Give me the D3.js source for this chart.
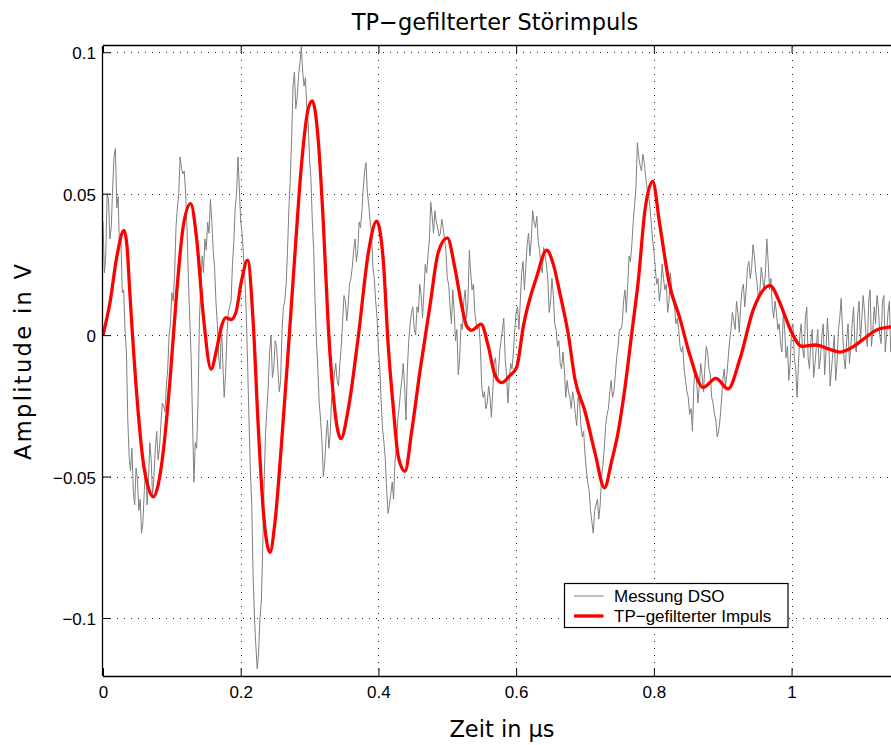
<!DOCTYPE html>
<html>
<head>
<meta charset="utf-8">
<script src="https://cdn.jsdelivr.net/npm/d3@7"></script>
<style>
  html, body { margin: 0; padding: 0; background: #fff; }
  svg { display: block; }
</style>
</head>
<body>
<div id="chart"></div>
<script>
// ---------- data ----------
const chartTitle = "TP\u2212gefilterter Störimpuls";
const xLabel = "Zeit in µs";
const yLabel = "Amplitude in V";
const legendLabels = ["Messung DSO", "TP\u2212gefilterter Impuls"];

const xTicks = [0, 0.2, 0.4, 0.6, 0.8, 1];
const xTickLabels = ["0", "0.2", "0.4", "0.6", "0.8", "1"];
const yTicks = [0.1, 0.05, 0, -0.05, -0.1];
const yTickLabels = ["0.1", "0.05", "0", "\u22120.05", "\u22120.1"];

const xDomain = [0, 1.148];
const yDomain = [-0.1205, 0.1022];

// DSO measurement: sampled every 0.002 µs starting at 0
const grayStart = 0;
const grayStep = 0.002;
const grayValues = [
0.040,0.022,0.028,0.050,0.048,0.034,0.038,0.052,0.063,0.066,0.045,0.049,0.030,0.034,0.015,0.016,0.002,-0.006,-0.030,-0.043,
-0.048,-0.040,-0.055,-0.060,-0.047,-0.051,-0.062,-0.058,-0.070,-0.066,-0.055,-0.047,-0.060,-0.052,-0.038,-0.044,-0.057,-0.050,-0.040,-0.034,
-0.044,-0.040,-0.032,-0.024,-0.025,-0.027,-0.018,-0.012,0.000,0.004,0.015,0.012,0.022,0.038,0.045,0.050,0.063,0.059,0.057,0.058,
0.050,0.038,0.020,0.006,-0.008,-0.030,-0.052,-0.038,-0.040,-0.024,0.005,0.018,0.028,0.022,0.034,0.030,0.040,0.036,0.048,0.040,
0.030,0.024,0.012,0.004,-0.008,-0.012,0.004,-0.010,-0.022,-0.014,0.000,0.008,0.010,0.012,0.025,0.033,0.045,0.050,0.063,0.052,
0.040,0.036,0.028,0.020,0.008,-0.010,-0.030,-0.048,-0.060,-0.085,-0.100,-0.110,-0.118,-0.112,-0.100,-0.094,-0.075,-0.052,-0.035,-0.026,
-0.018,-0.006,0.000,-0.015,-0.012,-0.002,-0.004,-0.012,-0.020,-0.016,0.002,0.010,0.012,0.018,0.030,0.045,0.055,0.070,0.088,0.093,
0.080,0.084,0.092,0.096,0.102,0.093,0.088,0.091,0.080,0.075,0.062,0.055,0.040,0.030,0.012,-0.002,-0.012,-0.024,-0.030,-0.038,
-0.050,-0.045,-0.036,-0.030,-0.040,-0.035,-0.022,-0.020,-0.014,-0.010,-0.016,-0.018,-0.010,-0.004,0.005,0.014,0.012,0.005,0.010,0.018,
0.020,0.024,0.030,0.034,0.026,0.030,0.040,0.038,0.044,0.052,0.058,0.061,0.050,0.046,0.040,0.036,0.024,0.020,0.012,0.006,
-0.005,-0.012,-0.024,-0.033,-0.038,-0.044,-0.055,-0.063,-0.060,-0.056,-0.052,-0.058,-0.045,-0.040,-0.030,-0.026,-0.020,-0.016,-0.010,-0.018,
-0.030,-0.012,-0.002,0.004,0.008,0.010,0.002,0.000,0.010,0.008,0.018,0.014,0.006,0.015,0.025,0.022,0.028,0.034,0.047,0.042,
0.036,0.044,0.040,0.038,0.035,0.036,0.041,0.038,0.034,0.030,0.020,0.018,0.010,0.004,0.016,0.008,-0.002,0.002,-0.014,-0.008,
0.004,0.002,0.012,0.016,0.006,0.012,0.030,0.022,0.016,0.018,0.008,0.004,0.002,0.004,-0.004,-0.018,-0.022,-0.020,-0.026,-0.024,
-0.018,-0.022,-0.029,-0.020,-0.010,-0.008,-0.016,-0.014,-0.006,-0.002,0.002,0.006,-0.008,-0.014,-0.024,-0.016,-0.010,-0.012,-0.006,0.002,
0.008,0.010,0.002,0.012,0.022,0.026,0.016,0.024,0.032,0.036,0.028,0.034,0.044,0.040,0.038,0.042,0.033,0.030,0.024,0.022,
0.031,0.028,0.025,0.020,0.008,0.012,0.020,0.014,0.004,0.002,-0.004,-0.002,-0.010,-0.012,-0.006,-0.012,-0.022,-0.016,-0.020,-0.022,
-0.026,-0.020,-0.023,-0.028,-0.032,-0.022,-0.024,-0.032,-0.036,-0.034,-0.042,-0.048,-0.052,-0.055,-0.062,-0.066,-0.070,-0.062,-0.060,-0.058,
-0.065,-0.060,-0.050,-0.046,-0.040,-0.032,-0.028,-0.026,-0.020,-0.016,-0.022,-0.020,-0.014,-0.008,-0.004,0.002,0.002,0.004,0.012,0.016,
0.008,0.018,0.028,0.026,0.032,0.040,0.046,0.052,0.068,0.063,0.060,0.058,0.064,0.061,0.056,0.052,0.050,0.046,0.040,0.034,
0.030,0.024,0.018,0.020,0.012,0.016,0.025,0.020,0.016,0.018,0.008,0.012,0.022,0.016,0.012,0.010,0.004,0.006,0.002,-0.004,
-0.006,-0.004,-0.012,-0.016,-0.020,-0.022,-0.028,-0.026,-0.034,-0.018,-0.012,-0.016,-0.024,-0.018,-0.010,-0.014,-0.020,-0.012,-0.004,-0.006,
-0.012,-0.014,-0.022,-0.024,-0.028,-0.030,-0.036,-0.034,-0.030,-0.024,-0.016,-0.012,-0.018,-0.014,-0.008,-0.002,0.002,0.008,0.005,0.002,
0.012,0.008,0.001,0.010,0.016,0.018,0.010,0.016,0.024,0.026,0.020,0.024,0.032,0.028,0.022,0.018,0.012,0.016,0.024,0.020,
0.016,0.022,0.034,0.026,0.016,0.020,0.010,0.006,0.012,0.008,0.002,0.004,-0.003,-0.006,0.008,0.002,-0.008,-0.004,-0.016,-0.010,
0.002,0.004,-0.008,-0.012,-0.022,-0.010,0.000,0.004,-0.005,-0.008,0.006,0.010,-0.008,-0.012,-0.002,0.002,-0.015,-0.010,-0.004,0.002,
-0.012,-0.008,0.000,0.004,-0.014,-0.006,0.006,-0.002,-0.018,-0.012,-0.006,0.000,-0.016,-0.010,0.002,0.006,0.013,0.002,-0.008,-0.012,
-0.002,0.004,-0.010,-0.004,0.004,0.010,-0.004,-0.006,0.007,0.012,-0.002,0.006,0.014,0.008,0.000,-0.004,0.012,0.016,-0.004,0.002,
0.010,0.004,0.014,0.010,0.000,-0.003,0.012,0.014,-0.006,0.000,0.008,0.012,-0.006
];

// Low-pass filtered pulse (read at characteristic points)
const redTime = [
0, 0.0102, 0.0199, 0.0305, 0.035, 0.039, 0.049, 0.0585, 0.066, 0.073,
0.080, 0.0876, 0.0973, 0.107, 0.1166, 0.1273, 0.136, 0.1457, 0.157, 0.165,
0.172, 0.178, 0.186, 0.193, 0.201, 0.210, 0.218, 0.2256, 0.2328, 0.2425,
0.2498, 0.2595, 0.269, 0.2788, 0.2885, 0.298, 0.304, 0.3127, 0.320, 0.3272,
0.3345, 0.3456, 0.3563, 0.371, 0.3853, 0.3974, 0.407, 0.4143, 0.4216, 0.4289,
0.4386, 0.4483, 0.4603, 0.4749, 0.487, 0.500, 0.5112, 0.5209, 0.5282, 0.5354,
0.549, 0.5596, 0.5693, 0.579, 0.590, 0.6008, 0.6105, 0.6298, 0.6443, 0.654,
0.6635, 0.6757, 0.6854, 0.700, 0.7145, 0.7283, 0.7387, 0.748, 0.758, 0.7677,
0.7774, 0.787, 0.7983, 0.8083, 0.8228, 0.8376, 0.8521, 0.8715, 0.8900, 0.9078,
0.925, 0.9444, 0.9686, 0.982, 0.990, 1.000, 1.015, 1.035, 1.055, 1.070,
1.090, 1.105, 1.125, 1.148
];
const redValue = [
0, 0.0116, 0.0275, 0.037, 0.031, 0.0148, -0.021, -0.045, -0.054, -0.0572,
-0.053, -0.041, -0.016, 0.015, 0.0386, 0.0465, 0.034, 0.0068, -0.012, -0.005,
0.003, 0.0062, 0.0055, 0.008, 0.019, 0.0265, 0.005, -0.033, -0.062, -0.0768,
-0.066, -0.0375, -0.0055, 0.029, 0.061, 0.080, 0.0828, 0.0686, 0.0395, 0.003,
-0.0215, -0.0366, -0.026, 0.000, 0.029, 0.0403, 0.0265, -0.004, -0.0257, -0.043,
-0.0481, -0.034, -0.0128, 0.0105, 0.0294, 0.0344, 0.0235, 0.0105, 0.0032, 0.0017,
0.0039, -0.004, -0.0142, -0.0168, -0.0145, -0.0113, 0.0032, 0.0206, 0.030, 0.025,
0.0148, 0.0003, -0.0156, -0.027, -0.0416, -0.054, -0.0445, -0.0344, -0.0186, 0.0003,
0.0193, 0.044, 0.0543, 0.0395, 0.0177, 0.0061, -0.0069, -0.0185, -0.0153, -0.019,
-0.0084, 0.009, 0.0175, 0.012, 0.007, 0.001, -0.004, -0.0035, -0.005, -0.006,
-0.004, -0.0013, 0.002, 0.003
];

// ---------- layout ----------
const W = 891, H = 745;
const plotLeft = 103, plotTop = 46, plotBottom = 676, plotRight = 893.5;

const svg = d3.select("#chart").append("svg")
  .attr("width", W).attr("height", H);

const x = d3.scaleLinear().domain(xDomain).range([plotLeft, plotRight]);
const y = d3.scaleLinear().domain(yDomain).range([plotBottom, plotTop]);

const tickFont = "'Liberation Sans', Arial, sans-serif";
const labelFont = "'DejaVu Sans', sans-serif";

svg.append("defs").append("clipPath").attr("id", "clip")
  .append("rect")
  .attr("x", plotLeft).attr("y", plotTop)
  .attr("width", plotRight - plotLeft).attr("height", plotBottom - plotTop);

// grid
const grid = svg.append("g").attr("class", "grid");
grid.selectAll("line.gx").data(xTicks.filter(d => d > 0)).join("line")
  .attr("class", "gx")
  .attr("x1", d => Math.round(x(d)) + 0.5).attr("x2", d => Math.round(x(d)) + 0.5)
  .attr("y1", plotTop).attr("y2", plotBottom)
  .attr("stroke", "#222").attr("stroke-width", 1)
  .attr("stroke-dasharray", "1,6");
grid.selectAll("line.gy").data(yTicks).join("line")
  .attr("class", "gy")
  .attr("y1", d => Math.round(y(d)) + 0.5).attr("y2", d => Math.round(y(d)) + 0.5)
  .attr("x1", plotLeft).attr("x2", plotRight)
  .attr("stroke", "#222").attr("stroke-width", 1)
  .attr("stroke-dasharray", "1,6");

// series
const grayData = grayValues.map((v, i) => [grayStart + i * grayStep, v]);
const redData = redTime.map((t, i) => [t, redValue[i]]);

const plot = svg.append("g").attr("clip-path", "url(#clip)");
plot.append("path")
  .datum(grayData)
  .attr("fill", "none")
  .attr("stroke", "#808080")
  .attr("stroke-width", 1)
  .attr("d", d3.line().x(d => x(d[0])).y(d => y(d[1])));

plot.append("path")
  .datum(redData)
  .attr("fill", "none")
  .attr("stroke", "#ff0000")
  .attr("stroke-width", 3.3)
  .attr("stroke-linejoin", "round")
  .attr("d", d3.line().curve(d3.curveMonotoneX).x(d => x(d[0])).y(d => y(d[1])));

// axes
const xAxis = d3.axisBottom(x).tickValues(xTicks)
  .tickFormat((d, i) => xTickLabels[i]).tickSize(-8).tickPadding(10);
const gx = svg.append("g").attr("transform", `translate(0,${plotBottom})`).call(xAxis);
gx.select(".domain").attr("d", `M${plotLeft},0.5H${W + 5}`);
gx.selectAll("text").attr("font-family", tickFont).attr("font-size", 17).attr("fill", "#000");

const xAxisTop = d3.axisTop(x).tickValues(xTicks).tickFormat("").tickSize(-7);
const gxt = svg.append("g").attr("transform", `translate(0,${plotTop})`).call(xAxisTop);
gxt.select(".domain").attr("d", `M${plotLeft},-0.5H${W + 5}`);

const yAxis = d3.axisLeft(y).tickValues(yTicks)
  .tickFormat((d, i) => yTickLabels[i]).tickSize(-8).tickPadding(7);
const gy = svg.append("g").attr("transform", `translate(${plotLeft},0)`).call(yAxis);
gy.select(".domain").attr("d", `M-0.5,${plotTop}V${plotBottom}`);
gy.selectAll("text").attr("font-family", tickFont).attr("font-size", 17)
  .attr("fill", "#000").attr("dy", "0.38em");

svg.selectAll(".domain").attr("stroke", "#000").attr("stroke-width", 1.3);
svg.selectAll(".tick line").attr("stroke", "#000");

// title and labels
svg.append("text")
  .attr("x", 495).attr("y", 30)
  .attr("text-anchor", "middle")
  .attr("font-family", labelFont).attr("font-size", 22.5)
  .attr("fill", "#000")
  .text(chartTitle);

svg.append("text")
  .attr("x", 502).attr("y", 737)
  .attr("text-anchor", "middle")
  .attr("font-family", labelFont).attr("font-size", 22.5)
  .attr("fill", "#000")
  .text(xLabel);

svg.append("text")
  .attr("transform", "translate(31,362) rotate(-90)")
  .attr("text-anchor", "middle")
  .attr("font-family", labelFont).attr("font-size", 22.5)
  .attr("fill", "#000")
  .attr("textLength", 196).attr("lengthAdjust", "spacing")
  .text(yLabel);

// legend
const lg = svg.append("g").attr("transform", "translate(564.5,583.5)");
lg.append("rect").attr("width", 223.5).attr("height", 44)
  .attr("fill", "#fff").attr("stroke", "#000").attr("stroke-width", 1.2);
const legendColors = ["#808080", "#ff0000"];
const legendWidths = [1, 3.3];
legendLabels.forEach((lab, i) => {
  const yy = 12.5 + i * 20;
  lg.append("line").attr("x1", 9.5).attr("x2", 39).attr("y1", yy).attr("y2", yy)
    .attr("stroke", legendColors[i]).attr("stroke-width", legendWidths[i]);
  lg.append("text").attr("x", 49.5).attr("y", yy + 5.5)
    .attr("font-family", tickFont).attr("font-size", 17).attr("fill", "#000")
    .text(lab);
});
</script>
</body>
</html>
